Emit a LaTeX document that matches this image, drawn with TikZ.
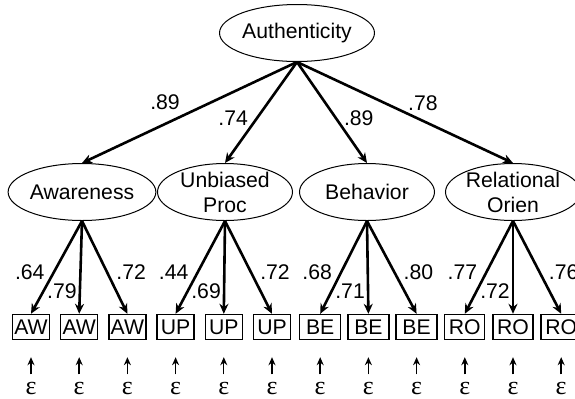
\documentclass[tikz,border=0pt]{standalone}
\usepackage{fontspec}
\setmainfont{Liberation Sans}
\newfontfamily\epsfont{Liberation Serif}
\usetikzlibrary{positioning, calc, shapes.geometric, arrows.meta}

\begin{document}
\begin{tikzpicture}[x=0.5pt, y=-0.5pt,
      font=\fontsize{10.6}{12.5}\selectfont,
      factor/.style={ellipse, draw, line width=0.5pt, inner sep=0pt, minimum width=67.5pt, minimum height=28.5pt, align=center},
      item/.style={rectangle, draw, line width=0.7pt, inner sep=0pt, minimum width=18.5pt, minimum height=12.5pt},
      err/.style={inner sep=0.5pt, font=\fontsize{13}{15}\epsfont},
      load/.style={-{Stealth[length=5pt, width=4.5pt]}, line width=1.3pt},
      resid/.style={-{Stealth[length=4pt, width=3.5pt]}, line width=0.7pt, shorten <=3pt, shorten >=8.5pt}
    ]
      \useasboundingbox (0,0) rectangle (575,398);

      % second-order factor and first-order factors
      \node[factor, minimum width=68.5pt] (auth) at (297,33) {Authenticity};
      \node[factor] (aw) at (82,192) {Awareness};
      \node[factor, inner ysep=-1.2pt] (up) at (225,192) {Unbiased\\Proc};
      \node[factor] (be) at (367,192) {Behavior};
      \node[factor, inner ysep=-1.2pt] (ro) at (513,192) {Relational\\Orien};

      \draw[load] (auth.south) -- (aw.north) node[pos=0.614, yshift=11pt] {.89};
      \draw[load] (auth.south) -- (up.north) node[pos=0.554, xshift=-12pt] {.74};
      \draw[load] (auth.south) -- (be.north) node[pos=0.554, xshift=11.5pt] {.89};
      \draw[load] (auth.south) -- (ro.north) node[pos=0.583, yshift=9pt] {.78};

      % indicators
      \node[item] (aw1) at (31,327) {AW};
      \node[item] (aw2) at (79.2,327) {AW};
      \node[item] (aw3) at (127.4,327) {AW};
      \node[item] (up1) at (175.6,327) {UP};
      \node[item] (up2) at (223.8,327) {UP};
      \node[item] (up3) at (272,327) {UP};
      \node[item, minimum width=20.5pt] (be1) at (320.2,327) {BE};
      \node[item, minimum width=20.5pt] (be2) at (368.4,327) {BE};
      \node[item, minimum width=20.5pt] (be3) at (416.6,327) {BE};
      \node[item, minimum width=20pt] (ro1) at (464.8,327) {RO};
      \node[item, minimum width=20pt] (ro2) at (513,327) {RO};
      \node[item, minimum width=20pt] (ro3) at (561.2,327) {RO};

      \draw[load] (aw.south) -- (aw1.north) node[pos=0.553, xshift=-12pt] {.64};
      \draw[load] (aw.south) -- (aw2.north) node[pos=0.76, xshift=-9pt] {.79};
      \draw[load] (aw.south) -- (aw3.north) node[pos=0.553, xshift=12pt] {.72};
      \draw[load] (up.south) -- (up1.north) node[pos=0.553, xshift=-12pt] {.44};
      \draw[load] (up.south) -- (up2.north) node[pos=0.76, xshift=-9pt] {.69};
      \draw[load] (up.south) -- (up3.north) node[pos=0.553, xshift=12pt] {.72};
      \draw[load] (be.south) -- (be1.north) node[pos=0.553, xshift=-12pt] {.68};
      \draw[load] (be.south) -- (be2.north) node[pos=0.76, xshift=-9pt] {.71};
      \draw[load] (be.south) -- (be3.north) node[pos=0.553, xshift=12pt] {.80};
      \draw[load] (ro.south) -- (ro1.north) node[pos=0.553, xshift=-12pt] {.77};
      \draw[load] (ro.south) -- (ro2.north) node[pos=0.76, xshift=-9pt] {.72};
      \draw[load] (ro.south) -- (ro3.north) node[pos=0.553, xshift=12pt] {.76};

      % error terms
      \node[err] (eaw1) at (31,388) {ε};
      \node[err] (eaw2) at (79.2,388) {ε};
      \node[err] (eaw3) at (127.4,388) {ε};
      \node[err] (eup1) at (175.6,388) {ε};
      \node[err] (eup2) at (223.8,388) {ε};
      \node[err] (eup3) at (272,388) {ε};
      \node[err] (ebe1) at (320.2,388) {ε};
      \node[err] (ebe2) at (368.4,388) {ε};
      \node[err] (ebe3) at (416.6,388) {ε};
      \node[err] (ero1) at (464.8,388) {ε};
      \node[err] (ero2) at (513,388) {ε};
      \node[err] (ero3) at (561.2,388) {ε};

      \draw[resid] (eaw1) -- (aw1);
      \draw[resid] (eaw2) -- (aw2);
      \draw[resid] (eaw3) -- (aw3);
      \draw[resid] (eup1) -- (up1);
      \draw[resid] (eup2) -- (up2);
      \draw[resid] (eup3) -- (up3);
      \draw[resid] (ebe1) -- (be1);
      \draw[resid] (ebe2) -- (be2);
      \draw[resid] (ebe3) -- (be3);
      \draw[resid, line width=1.1pt] (ero1) -- (ro1);
      \draw[resid, line width=1.1pt] (ero2) -- (ro2);
      \draw[resid, line width=1.1pt] (ero3) -- (ro3);
    \end{tikzpicture}
\end{document}
